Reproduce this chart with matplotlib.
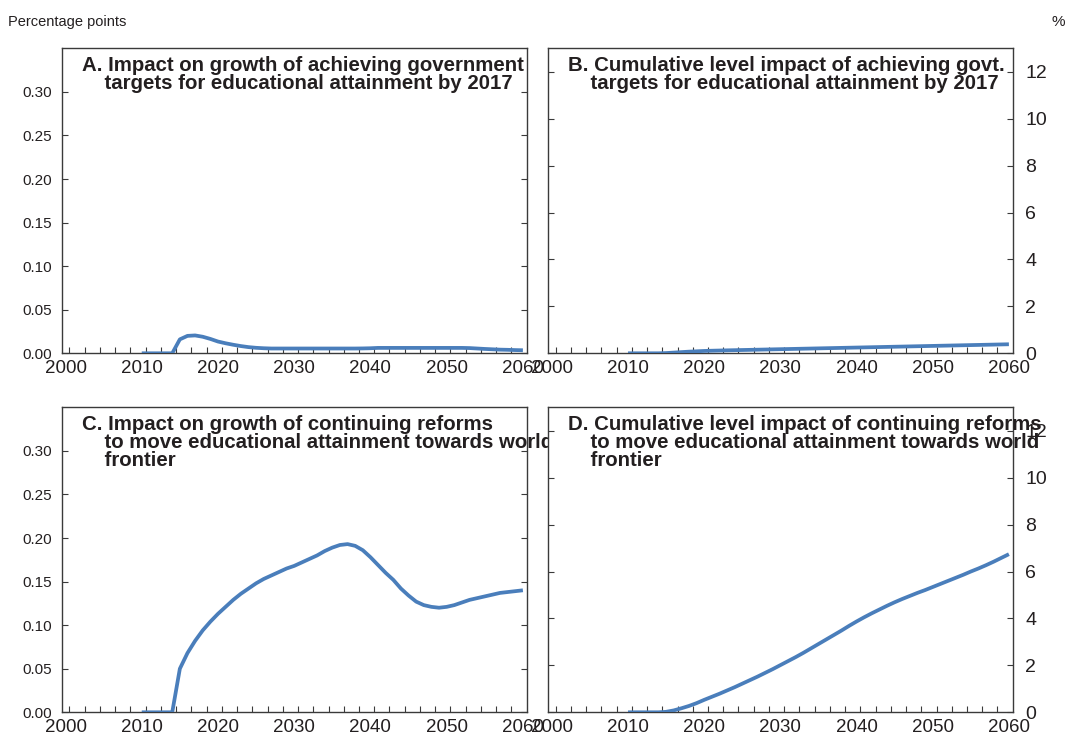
import numpy as np
import matplotlib
matplotlib.use("Agg")
import matplotlib.pyplot as plt
from matplotlib.ticker import FixedLocator

plt.rcParams['font.family'] = ['Liberation Sans', 'DejaVu Sans']

years = np.arange(2010, 2061)

# Panel A: impact on growth, govt targets (percentage points)
growth_targets = [0, 0, 0, 0, 0,
                  0.016, 0.020, 0.0205, 0.019, 0.0165,
                  0.0135, 0.0115, 0.0098, 0.0083, 0.0071,
                  0.0063, 0.0058, 0.0055, 0.0055, 0.0055,
                  0.0055, 0.0055, 0.0055, 0.0055, 0.0055,
                  0.0055, 0.0055, 0.0055, 0.0055, 0.0056,
                  0.0058, 0.0062, 0.0062, 0.0062, 0.0062,
                  0.0062, 0.0062, 0.0062, 0.0062, 0.0062,
                  0.0062, 0.0062, 0.0062, 0.0060, 0.0055,
                  0.0050, 0.0046, 0.0042, 0.0040, 0.0037,
                  0.0035]

# Panel B: cumulative level impact, govt targets (%)
level_targets = [0, 0, 0, 0, 0,
                 0.01, 0.03, 0.05, 0.07, 0.085,
                 0.10, 0.11, 0.118, 0.126, 0.133,
                 0.14, 0.147, 0.154, 0.161, 0.168,
                 0.175, 0.182, 0.189, 0.196, 0.203,
                 0.21, 0.217, 0.224, 0.231, 0.238,
                 0.245, 0.252, 0.259, 0.266, 0.273,
                 0.28, 0.287, 0.294, 0.301, 0.308,
                 0.315, 0.322, 0.329, 0.336, 0.343,
                 0.35, 0.357, 0.364, 0.371, 0.378,
                 0.385]

# Panel C: impact on growth, continuing reforms (percentage points)
growth_frontier = [0, 0, 0, 0, 0,
                   0.050, 0.068, 0.082, 0.094, 0.104,
                   0.113, 0.121, 0.129, 0.136, 0.142,
                   0.148, 0.153, 0.157, 0.161, 0.165,
                   0.168, 0.172, 0.176, 0.180, 0.185,
                   0.189, 0.192, 0.193, 0.191, 0.186,
                   0.178, 0.169, 0.160, 0.152, 0.142,
                   0.134, 0.127, 0.123, 0.121, 0.120,
                   0.121, 0.123, 0.126, 0.129, 0.131,
                   0.133, 0.135, 0.137, 0.138, 0.139,
                   0.140]

# Panel D: cumulative level impact, continuing reforms (%)
level_frontier = [0, 0, 0, 0, 0,
                  0.02, 0.08, 0.17, 0.27, 0.39,
                  0.53, 0.66, 0.79, 0.93, 1.07,
                  1.22, 1.37, 1.52, 1.68, 1.84,
                  2.01, 2.18, 2.35, 2.53, 2.72,
                  2.91, 3.10, 3.29, 3.48, 3.68,
                  3.87, 4.05, 4.22, 4.38, 4.54,
                  4.69, 4.83, 4.96, 5.09, 5.21,
                  5.34, 5.47, 5.60, 5.73, 5.86,
                  6.00, 6.13, 6.27, 6.42, 6.58,
                  6.74]

titles = ["A. Impact on growth of achieving government\n    targets for educational attainment by 2017",
          "B. Cumulative level impact of achieving govt.\n    targets for educational attainment by 2017",
          "C. Impact on growth of continuing reforms\n    to move educational attainment towards world\n    frontier",
          "D. Cumulative level impact of continuing reforms\n    to move educational attainment towards world\n    frontier"]

x_labels = [2000, 2010, 2020, 2030, 2040, 2050, 2060]
left_ticks = [0.00, 0.05, 0.10, 0.15, 0.20, 0.25, 0.30]
right_ticks = [0, 2, 4, 6, 8, 10, 12]

LINE = '#4a7ebb'
SPINE = '#3a3a3a'
TXT = '#231f20'

W, H = 1069, 738
fig = plt.figure(figsize=(W / 100, H / 100), dpi=100)

def ax_rect(l, t, r, b):
    return [l / W, 1 - b / H, (r - l) / W, (b - t) / H]

axes = [fig.add_axes(ax_rect(61.7, 48.3, 526.7, 353.3)),
        fig.add_axes(ax_rect(548, 48.3, 1012.7, 353.3)),
        fig.add_axes(ax_rect(61.7, 407.3, 526.7, 712.3)),
        fig.add_axes(ax_rect(548, 407.3, 1012.7, 712.3))]
series = [growth_targets, level_targets, growth_frontier, level_frontier]

for i, (ax, data, title) in enumerate(zip(axes, series, titles)):
    ax.plot(years, data, color=LINE, lw=2.7, solid_capstyle='butt', zorder=3)
    ax.set_xlim(1999.5, 2060.5)
    ax.set_xticks(x_labels)
    ax.set_xticklabels([str(v) for v in x_labels])
    ax.xaxis.set_minor_locator(FixedLocator(np.arange(2000.5, 2060, 2)))
    ax.tick_params(axis='x', which='major', length=0, labelsize=13.5, pad=5, colors=TXT)
    ax.tick_params(axis='x', which='minor', direction='in', length=4, width=0.8, color=SPINE)
    if i % 2 == 0:
        ax.set_ylim(0, 0.35)
        ax.set_yticks(left_ticks)
        ax.set_yticklabels([f"{v:.2f}" for v in left_ticks])
        ax.tick_params(axis='y', direction='in', length=4, width=0.8, color=SPINE,
                       left=True, right=True, labelleft=True, labelright=False,
                       labelsize=11, pad=7, labelcolor=TXT)
    else:
        ax.set_ylim(0, 13)
        ax.set_yticks(right_ticks)
        ax.set_yticklabels([str(v) for v in right_ticks])
        ax.tick_params(axis='y', direction='in', length=4, width=0.8, color=SPINE,
                       left=True, right=True, labelleft=False, labelright=True,
                       labelsize=14, pad=9, labelcolor=TXT)
    for s in ax.spines.values():
        s.set_color(SPINE)
        s.set_linewidth(1.0)
    ax.text(0.043, 0.975, title, transform=ax.transAxes, ha='left', va='top',
            fontsize=14.7, fontweight='bold', color=TXT, linespacing=0.93,
            zorder=5, clip_on=False)

fig.text(8 / W, 1 - 22 / H, "Percentage points", ha='left', va='center',
         fontsize=10.5, color=TXT)
fig.text(1065 / W, 1 - 22 / H, "%", ha='right', va='center', fontsize=11, color=TXT)

fig.savefig("out.png", dpi=100)
